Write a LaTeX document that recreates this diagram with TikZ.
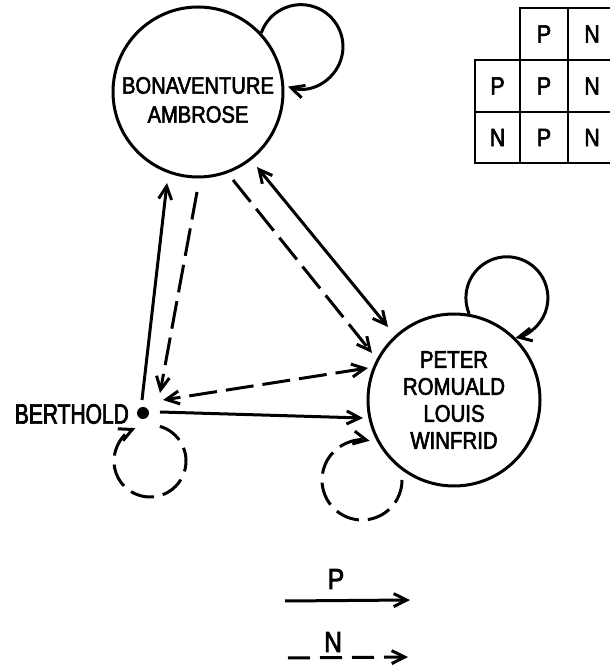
\documentclass[tikz,border=0pt]{standalone}
\usepackage{fontspec}
\setmainfont[FakeStretch=0.85, FakeBold=2.5]{Liberation Sans}
\newfontfamily\narrowfont[FakeStretch=0.75, FakeBold=2.5]{Liberation Sans}
\usetikzlibrary{arrows.meta,calc}
\begin{document}
\begin{tikzpicture}[x=1pt,y=1pt,
  every node/.style={font=\fontsize{24}{28}\selectfont, inner sep=0pt},
  Pline/.style={line width=3pt},
  Nline/.style={line width=3pt, dash pattern=on 28pt off 9pt},
  tip/.style={-{Straight Barb[length=13pt,width=13pt]}},
  bitip/.style={{Straight Barb[length=13pt,width=13pt]}-{Straight Barb[length=13pt,width=13pt]}},
  bigcirc/.style={circle, draw, line width=3pt, inner sep=0pt, align=center},
  cell/.style={draw, line width=2.6pt, minimum width=48pt, minimum height=52pt, font=\fontsize{25}{28}\selectfont},
  legend/.style={font=\fontsize{29}{30}\selectfont}
]
\useasboundingbox (0,0) rectangle (610,669);
\clip (0,0) rectangle (610,669);

% main nodes
\node[bigcirc, minimum size=170pt,
  label={[align=center, yshift=-8pt, font=\fontsize{23.7}{29}\selectfont]center:BONAVENTURE\\AMBROSE}] (bon) at (198,577) {};
\node[bigcirc, minimum size=172pt, font=\fontsize{24}{27}\selectfont] (pet) at (454,269) {PETER\\ROMUALD\\LOUIS\\WINFRID};
\node[circle, fill, minimum size=12pt] (bert) at (143,256) {};
\node[anchor=east, font=\narrowfont\fontsize{28}{30}\selectfont] (bertlbl) at ($(bert)+(-14,-1)$) {BERTHOLD};

% table
\node[cell, minimum width=48pt] (c12) at (544,635) {P};
\node[cell, minimum width=48pt] (c13) at (592,635) {N};
\node[cell, minimum width=45pt] (c21) at (497.5,583) {P};
\node[cell, minimum width=48pt] (c22) at (544,583) {P};
\node[cell, minimum width=48pt] (c23) at (592,583) {N};
\node[cell, minimum width=45pt, minimum height=51pt] (c31) at (497.5,531.5) {N};
\node[cell, minimum width=48pt, minimum height=51pt] (c32) at (544,531.5) {P};
\node[cell, minimum width=48pt, minimum height=51pt] (c33) at (592,531.5) {N};

% self loops
\draw[Pline, tip] (bon.43) arc[start angle=161, end angle=-108, radius=42];
\draw[Pline, tip] (pet.80) arc[start angle=203, end angle=-78, radius=41];
\coordinate (bloop) at ($(bert)+(7,-48)$);
\draw[Nline, dash pattern=on 24pt off 9pt, tip] (bloop) ++(74:36) arc[start angle=74, end angle=-246, radius=36];
\coordinate (ploop) at ($(pet)+(-92,-80)$);
\draw[Nline, dash pattern=on 24pt off 9pt, tip] (ploop) ++(0:40) arc[start angle=0, end angle=-281, radius=40];

% connectors
\draw[Pline, tip] ($(bert)+(-1,13)$) -- ($(bon)+(-31,-91)$);
\draw[Nline, tip] ($(bon)+(-1,-100)$) -- ($(bert)+(17,20)$);
\draw[Nline, tip] ($(bon)+(35,-88)$) -- ($(pet)+(-82,47)$);
\draw[Pline, bitip] ($(bon)+(59,-75)$) -- ($(pet)+(-66,73)$);
\draw[Nline, bitip] ($(pet)+(-86,32)$) -- ($(bert)+(20,13)$);
\draw[Pline, tip] ($(bert)+(17,1)$) -- ($(pet)+(-91,-18)$);

% legend
\node[legend] (plab) at (336,90) {P};
\coordinate (pa) at (285,68);
\coordinate (pb) at (410,69);
\draw[Pline, tip] (pa) -- (pb);
\node[legend] (nlab) at (333,27) {N};
\coordinate (na) at (288,11);
\coordinate (nb) at (408,12);
\draw[Nline, dash pattern=on 22pt off 10pt, tip] (na) -- (nb);
\end{tikzpicture}
\end{document}
